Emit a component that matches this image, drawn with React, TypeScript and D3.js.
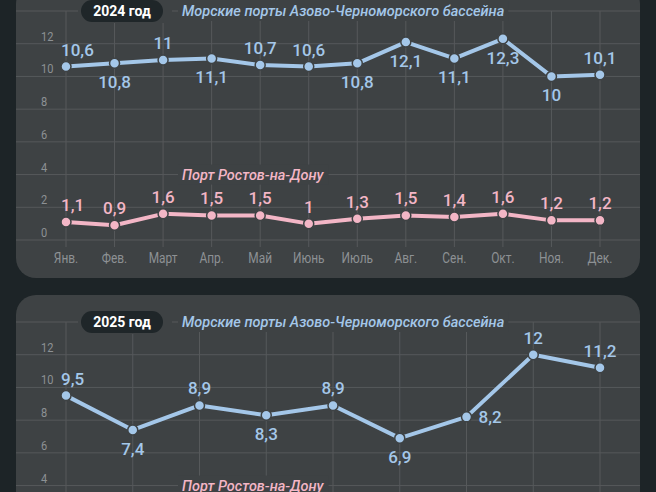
import { useRef, useEffect } from 'react';
import { select, scaleLinear, scalePoint, line } from 'd3';

// Monthly cargo turnover, million tonnes
const months2024 = ['Янв.', 'Фев.', 'Март', 'Апр.', 'Май', 'Июнь', 'Июль', 'Авг.', 'Сен.', 'Окт.', 'Ноя.', 'Дек.'];
const seaPorts2024 = [10.6, 10.8, 11, 11.1, 10.7, 10.6, 10.8, 12.1, 11.1, 12.3, 10, 10.1];
const rostov2024 = [1.1, 0.9, 1.6, 1.5, 1.5, 1, 1.3, 1.5, 1.4, 1.6, 1.2, 1.2];
const seaLabelSide2024 = ['up', 'down', 'up', 'down', 'up', 'up', 'down', 'down', 'down', 'down', 'down', 'up'];

const months2025 = ['Янв.', 'Фев.', 'Март', 'Апр.', 'Май', 'Июнь', 'Июль', 'Авг.', 'Сен.'];
const seaPorts2025 = [9.5, 7.4, 8.9, 8.3, 8.9, 6.9, 8.2, 12, 11.2];
const seaLabelSide2025 = ['up', 'down', 'up', 'down', 'up', 'down', 'right', 'up', 'up'];

const yTicks = [0, 2, 4, 6, 8, 10, 12, 14];
const seaTitle = 'Морские порты Азово-Черноморского бассейна';
const rostovTitle = 'Порт Ростов-на-Дону';

const panels = [
    { top: -16, year: '2024 год', months: months2024, sea: seaPorts2024, seaSide: seaLabelSide2024, rostov: rostov2024 },
    { top: 295, year: '2025 год', months: months2025, sea: seaPorts2025, seaSide: seaLabelSide2025, rostov: [] as number[] },
];

const FONT = 'Roboto, sans-serif';
const COLORS = {
    bg: '#1d2427',
    card: '#3e4244',
    grid: '#56595b',
    tick: '#8d9194',
    blue: '#a4c7e9',
    pink: '#f3b6c6',
    badge: '#1f2629',
};

function App() {
    const svgRef = useRef<SVGSVGElement | null>(null);
    const width = 656;
    const height = 492;

    useEffect(() => {
        const svg = select(svgRef.current);
        svg.selectAll('*').remove();

        svg.append('rect').attr('width', width).attr('height', height).attr('fill', COLORS.bg);

        panels.forEach((p) => {
            const g = svg.append('g');
            const x = scalePoint<string>().domain(p.months).range([66, 600]);
            const y = scaleLinear().domain([0, 14]).range([p.top + 256, p.top + 27]);

            // Card
            g.append('rect')
                .attr('x', 16)
                .attr('y', p.top)
                .attr('width', 624)
                .attr('height', 294)
                .attr('rx', 20)
                .attr('fill', COLORS.card);

            // Grid
            g.append('g')
                .selectAll('line')
                .data(yTicks)
                .join('line')
                .attr('x1', 16)
                .attr('x2', 640)
                .attr('y1', (d) => y(d))
                .attr('y2', (d) => y(d))
                .attr('stroke', COLORS.grid)
                .attr('stroke-width', 1);

            g.append('g')
                .selectAll('line')
                .data(p.months)
                .join('line')
                .attr('x1', (d) => x(d)!)
                .attr('x2', (d) => x(d)!)
                .attr('y1', y(14))
                .attr('y2', y(0) + 7)
                .attr('stroke', COLORS.grid)
                .attr('stroke-width', 1);

            // Y tick labels (14 sits under the title row; skip anything past the page bottom)
            g.append('g')
                .selectAll('text')
                .data(yTicks.filter((d) => d < 14 && y(d) - 3 < height))
                .join('text')
                .attr('transform', (d) => `translate(41,${y(d) - 3}) scale(0.85,1)`)
                .text((d) => d)
                .attr('font-family', FONT)
                .attr('font-size', 13)
                .attr('fill', COLORS.tick);

            // Month labels
            if (y(0) + 23 < height) {
                g.append('g')
                    .selectAll('text')
                    .data(p.months)
                    .join('text')
                    .attr('transform', (d) => `translate(${x(d)},${y(0) + 23}) scale(0.85,1)`)
                    .attr('text-anchor', 'middle')
                    .text((d) => d)
                    .attr('font-family', FONT)
                    .attr('font-size', 14)
                    .attr('fill', COLORS.tick);
            }

            // Year badge
            g.append('rect')
                .attr('x', 78)
                .attr('y', y(14) - 12)
                .attr('width', 94)
                .attr('height', 24)
                .attr('fill', COLORS.card);
            g.append('rect')
                .attr('x', 81)
                .attr('y', y(14) - 11)
                .attr('width', 82)
                .attr('height', 22)
                .attr('rx', 11)
                .attr('fill', COLORS.badge);
            g.append('text')
                .attr('x', 122)
                .attr('y', y(14) + 5)
                .attr('text-anchor', 'middle')
                .text(p.year)
                .attr('font-family', FONT)
                .attr('font-weight', 700)
                .attr('font-size', 14)
                .attr('fill', '#ffffff');

            // Series titles with a card-coloured backing over the grid
            const titles = [
                { text: seaTitle, color: COLORS.blue, yPos: y(14) },
                { text: rostovTitle, color: COLORS.pink, yPos: y(4) },
            ];
            titles.forEach((t) => {
                const label = g.append('text')
                    .attr('x', 182)
                    .attr('y', t.yPos + 5)
                    .text(t.text)
                    .attr('font-family', FONT)
                    .attr('font-style', 'italic')
                    .attr('font-weight', 500)
                    .attr('font-size', 14.5)
                    .attr('fill', t.color);
                const box = (label.node() as SVGTextElement).getBBox();
                g.insert('rect', () => label.node())
                    .attr('x', box.x - 4)
                    .attr('y', t.yPos - 10)
                    .attr('width', box.width + 8)
                    .attr('height', 20)
                    .attr('fill', COLORS.card);
            });

            // Series
            const series = [
                { values: p.sea, color: COLORS.blue, side: p.seaSide },
                { values: p.rostov, color: COLORS.pink, side: p.rostov.map(() => 'up') },
            ];
            series.forEach((s) => {
                if (!s.values.length) return;
                const pts = s.values.map((v, i) => ({ v, m: p.months[i], side: s.side[i], i }));
                const path = line<{ v: number; m: string }>()
                    .x((d) => x(d.m)!)
                    .y((d) => y(d.v));

                g.append('path')
                    .attr('d', path(pts))
                    .attr('fill', 'none')
                    .attr('stroke', s.color)
                    .attr('stroke-width', 4)
                    .attr('stroke-linejoin', 'round');

                g.append('g')
                    .selectAll('circle')
                    .data(pts)
                    .join('circle')
                    .attr('cx', (d) => x(d.m)!)
                    .attr('cy', (d) => y(d.v))
                    .attr('r', 5)
                    .attr('fill', s.color)
                    .attr('stroke', COLORS.card)
                    .attr('stroke-width', 1.5);

                g.append('g')
                    .selectAll('text')
                    .data(pts)
                    .join('text')
                    .attr('x', (d) => {
                        if (d.side === 'right') return x(d.m)! + 12;
                        if (d.i === 0) return x(d.m)! - 5;
                        return x(d.m)!;
                    })
                    .attr('y', (d) => {
                        if (d.side === 'right') return y(d.v) + 6;
                        return d.side === 'up' ? y(d.v) - 11 : y(d.v) + 25;
                    })
                    .attr('text-anchor', (d) => (d.side === 'right' || d.i === 0 ? 'start' : 'middle'))
                    .text((d) => String(d.v).replace('.', ','))
                    .attr('font-family', FONT)
                    .attr('font-weight', 500)
                    .attr('font-size', 17)
                    .attr('fill', s.color);
            });
        });
    }, []);

    return (
        <svg
            ref={svgRef}
            width={width}
            height={height}
            style={{ position: 'absolute', left: 0, top: 0, display: 'block' }}
        ></svg>
    );
}

export default App;
